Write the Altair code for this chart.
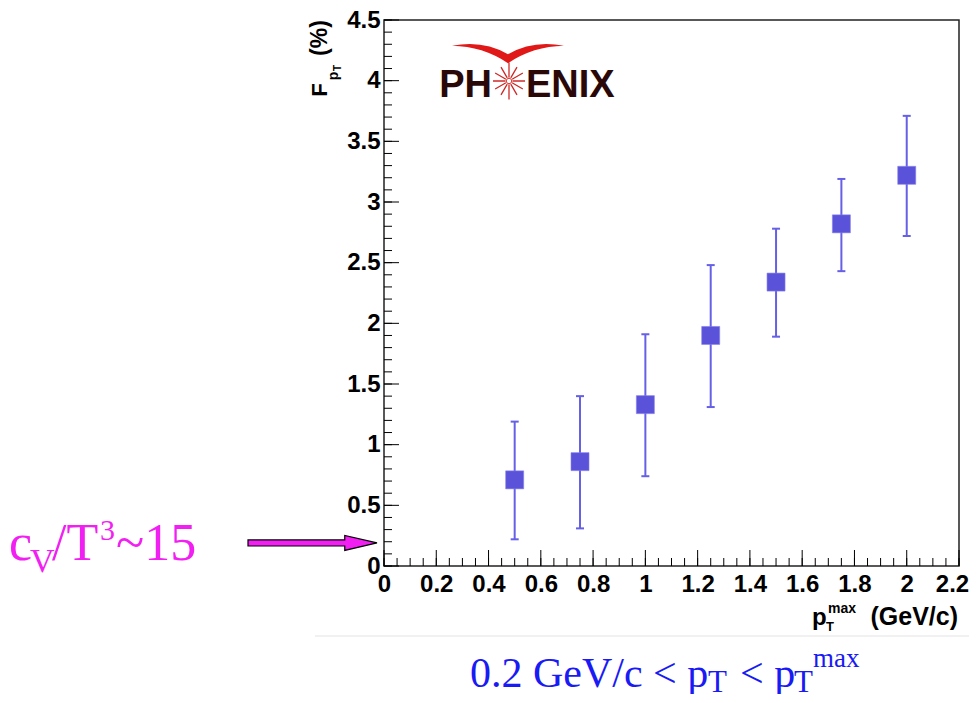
import math
import altair as alt
import pandas as pd

# ---------------- data ----------------
pt_max = [0.5, 0.75, 1.0, 1.25, 1.5, 1.75, 2.0]
f_pt = [0.71, 0.86, 1.33, 1.90, 2.34, 2.82, 3.22]
f_lo = [0.22, 0.31, 0.74, 1.31, 1.89, 2.43, 2.72]
f_hi = [1.19, 1.40, 1.91, 2.48, 2.78, 3.19, 3.71]

x_labels = [0, 0.2, 0.4, 0.6, 0.8, 1, 1.2, 1.4, 1.6, 1.8, 2, 2.2]
y_labels = [0, 0.5, 1, 1.5, 2, 2.5, 3, 3.5, 4, 4.5]
x_minor = [round(i * 0.05, 2) for i in range(0, 45)]
y_minor = [round(i * 0.1, 1) for i in range(0, 46)]

arrow_level = 0.19  # magenta arrow marks c_V/T^3 ~ 15

# ---------------- layout ----------------
X0, Y0 = 384, 20          # page position of plot origin
W, H = 575, 546
TOTAL_W, TOTAL_H = 961, 686
FONT = "Liberation Sans"
SERIF = "Liberation Serif"
PT_COLOR = "#5a52d9"
ERR_COLOR = "#6560e6"
MAGENTA = "#f21ff2"
BLUE = "#1a1af5"

xscale = alt.Scale(domain=[0, 2.2], nice=False, zero=False)
yscale = alt.Scale(domain=[0, 4.5], nice=False, zero=False)
xaxis = alt.Axis(values=x_labels, format="~g", title=None, ticks=False, tickSize=0,
                 domain=False, grid=False, labelFont=FONT, labelFontWeight="bold",
                 labelFontSize=24, labelColor="black", labelPadding=6,
                 labelFlush=False, labelOverlap=False,
                 labelOffset={"condition": {"test": "datum.value > 2.1", "value": -7}, "value": 0})
yaxis = alt.Axis(values=y_labels, format="~g", title=None, ticks=False, tickSize=0,
                 domain=False, grid=False, labelFont=FONT, labelFontWeight="bold",
                 labelFontSize=24, labelColor="black", labelPadding=4,
                 labelFlush=False, labelOverlap=False)


def X(f):
    return alt.X(f"{f}:Q", scale=xscale, axis=xaxis)


def Y(f):
    return alt.Y(f"{f}:Q", scale=yscale, axis=yaxis)


df = pd.DataFrame({"pt": pt_max, "f": f_pt, "lo": f_lo, "hi": f_hi})

# inward ticks
xmaj = alt.Chart(pd.DataFrame({"x": x_labels})).mark_rule(color="black", strokeWidth=1).encode(
    x=X("x"), y=alt.value(H), y2=alt.value(H - 16))
xmin = alt.Chart(pd.DataFrame({"x": x_minor})).mark_rule(color="black", strokeWidth=1).encode(
    x=X("x"), y=alt.value(H), y2=alt.value(H - 8))
ymaj = alt.Chart(pd.DataFrame({"y": y_labels})).mark_rule(color="black", strokeWidth=1).encode(
    y=Y("y"), x=alt.value(0), x2=alt.value(15))
ymin = alt.Chart(pd.DataFrame({"y": y_minor})).mark_rule(color="black", strokeWidth=1).encode(
    y=Y("y"), x=alt.value(0), x2=alt.value(8))

base = alt.Chart(df)
err = base.mark_rule(color=ERR_COLOR, strokeWidth=2).encode(x=X("pt"), y=Y("lo"), y2="hi:Q")
cap_lo = base.mark_point(shape="M -1 0 L 1 0", size=64, stroke=ERR_COLOR, strokeWidth=2,
                         filled=False, opacity=1).encode(x=X("pt"), y=Y("lo"))
cap_hi = base.mark_point(shape="M -1 0 L 1 0", size=64, stroke=ERR_COLOR, strokeWidth=2,
                         filled=False, opacity=1).encode(x=X("pt"), y=Y("hi"))
pts = base.mark_square(size=324, color=PT_COLOR, opacity=1, stroke="#8580ec",
                       strokeWidth=0.6).encode(x=X("pt"), y=Y("f"))


def txt(s, x, y, size, color="black", font=FONT, weight="normal", align="left",
        baseline="alphabetic", angle=0):
    return alt.Chart(pd.DataFrame({"t": [s]})).mark_text(
        align=align, baseline=baseline, fontSize=size, font=font, fontWeight=weight,
        color=color, angle=angle).encode(text="t:N", x=alt.value(x - X0), y=alt.value(y - Y0))


def shape(path, x, y, size, fill=None, stroke=None, sw=1.0):
    kw = dict(shape=path, size=size, opacity=1)
    if fill:
        kw.update(filled=True, fill=fill)
    else:
        kw.update(filled=False)
    if stroke:
        kw.update(stroke=stroke, strokeWidth=sw)
    return alt.Chart(pd.DataFrame({"a": [0]})).mark_point(**kw).encode(
        x=alt.value(x - X0), y=alt.value(y - Y0))


# axis titles
ytitle = [
    txt("F", 320, 90, 22, weight="bold", align="center", baseline="middle", angle=270),
    txt("p", 334, 76, 14, weight="bold", align="center", baseline="middle", angle=270),
    txt("T", 338, 68, 10, weight="bold", align="center", baseline="middle", angle=270),
    txt("(%)", 320, 38, 23, weight="bold", align="center", baseline="middle", angle=270),
]
xtitle = [
    txt("p", 812, 625, 24, weight="bold"),
    txt("T", 826, 631, 13, weight="bold"),
    txt("max", 828, 613, 14, weight="bold"),
    txt("(GeV/c)", 958, 625, 25, weight="bold", align="right"),
]

# PHENIX logo
spokes = []
for k in range(12):
    a = math.radians(k * 30)
    r1 = 1.15 if k in (3, 9) else 1.0
    spokes.append(f"M {0.22*math.cos(a):.3f} {0.22*math.sin(a):.3f} L {r1*math.cos(a):.3f} {r1*math.sin(a):.3f}")
star_path = " ".join(spokes)
swoosh_path = ("M -1 -0.11 Q -0.45 -0.1 0 0.2 Q 0.45 -0.1 1 -0.11 "
               "Q 0.45 -0.22 0 0.04 Q -0.45 -0.22 -1 -0.11 Z")
logo = [
    txt("PH", 492, 97, 38, color="#2a0808", weight="bold", align="right"),
    txt("ENIX", 526, 97, 38, color="#2a0808", weight="bold"),
    shape(star_path, 509, 81, 1024, stroke="#d02828", sw=1.3),
    shape("M 1 0 A 1 1 0 1 1 -1 0 A 1 1 0 1 1 1 0 Z", 509, 81, 30, stroke="#d02828", sw=1),
    shape(swoosh_path, 508, 52, 12544, fill="#e01818"),
]

# annotation outside the frame
arrow_path = ("M -1 -0.047 L 0.5 -0.047 L 0.5 -0.116 L 1 0 L 0.5 0.116 L 0.5 0.047 "
              "L -1 0.047 Z")
arrow = alt.Chart(pd.DataFrame({"lvl": [arrow_level]})).mark_point(
    shape=arrow_path, size=16641, filled=True, fill=MAGENTA, stroke="black",
    strokeWidth=1.2, opacity=1).encode(x=alt.value(312.5 - X0), y=Y("lvl"))

cv = [
    txt("c", 9, 560, 52, color=MAGENTA, font=SERIF),
    txt("V", 30, 572, 34, color=MAGENTA, font=SERIF),
    txt("/T", 52, 560, 52, color=MAGENTA, font=SERIF),
    txt("3", 100, 540, 30, color=MAGENTA, font=SERIF),
    txt("~15", 116, 560, 52, color=MAGENTA, font=SERIF),
]

bottom = [
    txt("0.2 GeV/c < p", 470, 687, 42, color=BLUE, font=SERIF),
    txt("T", 708, 692, 31, color=BLUE, font=SERIF),
    txt("< p", 740, 687, 42, color=BLUE, font=SERIF),
    txt("T", 794, 692, 31, color=BLUE, font=SERIF),
    txt("max", 813, 667, 27, color=BLUE, font=SERIF),
]

sep = alt.Chart(pd.DataFrame({"a": [0]})).mark_rule(color="#ececec", strokeWidth=1.5).encode(
    x=alt.value(315 - X0), x2=alt.value(977 - X0), y=alt.value(636 - Y0))

layers = [xmin, xmaj, ymin, ymaj, err, cap_lo, cap_hi, pts, arrow, sep] + ytitle + xtitle + logo + cv + bottom

chart = alt.layer(*layers).properties(
    width=W, height=H,
    autosize=alt.AutoSizeParams(type="none"),
    padding={"left": X0 - 8, "top": Y0 - 8, "right": TOTAL_W - (X0 - 8) - W,
             "bottom": TOTAL_H - (Y0 - 8) - H},
    background="white",
).configure_view(stroke="#222222", strokeWidth=1.5)

chart.save("out.html", embed_options={"renderer": "svg", "actions": False})
